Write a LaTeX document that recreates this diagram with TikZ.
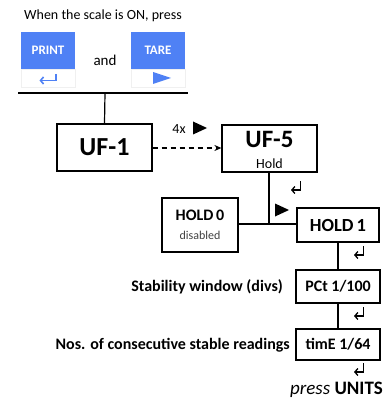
\documentclass[tikz,border=0pt]{standalone}
\usepackage{fontspec}
\setmainfont{Carlito}
\usetikzlibrary{arrows.meta}
\definecolor{keyblue}{RGB}{79,129,245}

\begin{document}
\begin{tikzpicture}[x=1pt, y=-1pt,
    box/.style={draw=black, line width=1.2pt, inner sep=0pt},
    key/.style={fill=keyblue, draw=none, inner sep=0pt, minimum width=54pt, minimum height=37pt, text=white, font=\bfseries\fontsize{13}{14}\selectfont},
    keyfoot/.style={draw=gray!12, inner sep=0pt, minimum width=54pt, minimum height=18pt},
    lbl/.style={inner sep=0pt, font=\bfseries\fontsize{16}{18}\selectfont},
    wire/.style={line width=1.2pt},
    retarrow/.pic={\draw[line width=1.3pt, -{Straight Barb[length=3pt, width=7pt]}] (4.5,-5) -- (4.5,4) -- (-5,4);},
    tri/.pic={\fill (-7,-6.5) -- (7,0) -- (-7,6.5) -- cycle;}]
    \useasboundingbox (0,0) rectangle (386,403);
    % header
    \node[inner sep=0pt, font=\fontsize{14}{16}\selectfont] (title) at (103,16) {When the scale is ON, press};
    \node[key] (print) at (48,50.5) {PRINT};
    \node[keyfoot] (printfoot) at (48,78) {};
    \draw[keyblue, line width=1.6pt, -{Straight Barb[length=3pt, width=7pt]}] ([xshift=8pt,yshift=4pt]printfoot.center) -- ([xshift=8pt,yshift=-2.5pt]printfoot.center) -- ([xshift=-8.5pt,yshift=-2.5pt]printfoot.center);
    \node[key] (tare) at (158,50.5) {TARE};
    \node[keyfoot] (tarefoot) at (158,78) {};
    \fill[keyblue] ([xshift=-5pt,yshift=-6pt]tarefoot.center) -- ([xshift=13pt]tarefoot.center) -- ([xshift=-5pt,yshift=6pt]tarefoot.center) -- cycle;
    \node[inner sep=0pt, font=\fontsize{15}{17}\selectfont] (and) at (105,60) {and};
    \coordinate (barL) at (18,93);
    \coordinate (barR) at (188,93);
    \coordinate (barM) at (105,93);
    \draw[wire] (barL) -- (barR);
    % menu
    \node[box, minimum width=95pt, minimum height=47pt, font=\bfseries\fontsize{26}{28}\selectfont] (uf1) at (104.5,147.5) {UF-1};
    \node[box, minimum width=95pt, minimum height=47pt] (uf5) at (269.5,148.5) {};
    \node[inner sep=0pt, font=\bfseries\fontsize{25}{28}\selectfont] (uf5t) at (269.5,139) {UF-5};
    \node[inner sep=0pt, font=\fontsize{14}{16}\selectfont] (hold) at (269.5,164) {Hold};
    \draw[wire] (barM) -- (uf1.north);
    \draw[wire, dash pattern=on 5pt off 4pt, -{Stealth[length=7pt, width=6pt]}] (uf1.east |- 0,148) -- (uf5.west |- 0,148);
    \node[inner sep=0pt, font=\fontsize{14}{16}\selectfont] (times) at (179,129) {4x};
    \pic at (200,128) {tri};
    \pic at (296,186) {retarrow};
    \node[box, minimum width=76pt, minimum height=54pt] (hold0) at (200,225) {};
    \node[lbl] (hold0t) at (200,215) {HOLD\,0};
    \node[inner sep=0pt, text=black!75, font=\fontsize{12}{13}\selectfont] (hold0s) at (200,235) {disabled};
    \node[box, lbl, minimum width=82pt, minimum height=34pt, font=\bfseries\fontsize{18.5}{20}\selectfont] (hold1) at (338,225) {HOLD\,1};
    \coordinate (join) at (269,224);
    \draw[wire] (uf5.south -| join) -- (join);
    \draw[wire] (hold0.east |- join) -- (join) -- (hold1.west |- join);
    \pic at (282,210) {tri};
    \pic at (359,251) {retarrow};
    \node[box, lbl, minimum width=84pt, minimum height=33pt] (pct) at (338,286.5) {PCt 1/100};
    \node[lbl, anchor=east] (pctlbl) at (283,287) {Stability window (divs)};
    \draw[wire] (hold1.south) -- (pct.north);
    \pic at (359,312) {retarrow};
    \node[box, lbl, minimum width=84pt, minimum height=31pt] (time) at (338,344.5) {timE 1/64};
    \node[lbl, anchor=east] (timelbl) at (290,345) {Nos. of consecutive stable readings};
    \draw[wire] (pct.south) -- (time.north);
    \pic at (359,368) {retarrow};
    \node[anchor=east, inner sep=0pt, font=\fontsize{19}{21}\selectfont] (units) at (383,390) {\textit{press} \textbf{UNITS}};
\end{tikzpicture}
\end{document}
